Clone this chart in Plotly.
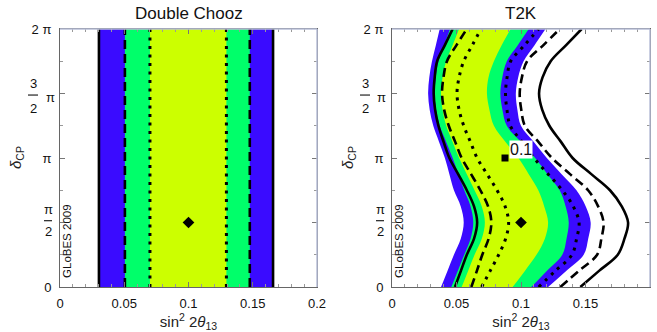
import plotly.graph_objects as go

# ---------------- data ----------------
# delta_CP in units of pi
delta_pts = [0, 0.125, 0.25, 0.375, 0.5, 0.625, 0.75, 0.875, 1.0,
             1.125, 1.25, 1.375, 1.5, 1.625, 1.75, 1.875, 2.0]
delta_edge = [0, 2]

# Double Chooz (vertical bands, independent of delta)
dc_blue = [0.0303, 0.1658]
dc_green = [0.0505, 0.1477]
dc_yellow = [0.0700, 0.1295]
dc_solid = [0.0303, 0.1658]
dc_dashed = [0.0505, 0.1477]
dc_dotted = [0.0700, 0.1295]

# T2K region boundaries (sin^2 2theta13 at each delta_pts)
t2k_blue_left = [0.038, 0.043, 0.048, 0.0533, 0.0556, 0.0533, 0.048, 0.0445, 0.041,
                 0.0365, 0.032, 0.0292, 0.028, 0.0289, 0.031, 0.034, 0.037]
t2k_green_left = [0.046, 0.051, 0.056, 0.0609, 0.063, 0.0609, 0.056, 0.0515, 0.047,
                  0.042, 0.037, 0.0342, 0.033, 0.0339, 0.036, 0.0405, 0.045]
t2k_yellow_left = [0.054, 0.059, 0.064, 0.0696, 0.072, 0.0696, 0.064, 0.058, 0.052,
                   0.047, 0.042, 0.0392, 0.038, 0.0392, 0.042, 0.047, 0.052]
t2k_yellow_right = [0.0935, 0.103, 0.112, 0.1185, 0.121, 0.118, 0.1134, 0.106, 0.098,
                    0.088, 0.079, 0.0755, 0.0736, 0.0748, 0.079, 0.085, 0.092]
t2k_green_right = [0.108, 0.120, 0.132, 0.1353, 0.137, 0.1346, 0.130, 0.1205, 0.111,
                   0.100, 0.089, 0.0856, 0.084, 0.0855, 0.089, 0.0975, 0.106]
t2k_blue_right = [0.121, 0.135, 0.1486, 0.1521, 0.154, 0.1502, 0.143, 0.1315, 0.120,
                  0.110, 0.100, 0.0972, 0.096, 0.0978, 0.102, 0.1105, 0.119]

t2k_solid_left = [0.0488, 0.0534, 0.058, 0.0636, 0.066, 0.0636, 0.058, 0.0513, 0.0445,
                  0.040, 0.036, 0.0334, 0.0323, 0.0331, 0.035, 0.041, 0.047]
t2k_dashed_left = [0.0615, 0.0658, 0.070, 0.0749, 0.077, 0.0745, 0.0685, 0.0613, 0.054,
                   0.049, 0.044, 0.0404, 0.0388, 0.0399, 0.0426, 0.050, 0.058]
t2k_dotted_left = [0.0695, 0.0761, 0.0827, 0.0881, 0.0904, 0.0877, 0.0814, 0.0737, 0.066,
                   0.0608, 0.0556, 0.052, 0.0504, 0.052, 0.0556, 0.0623, 0.069]
t2k_dotted_right = [0.1137, 0.1266, 0.1395, 0.1431, 0.145, 0.1405, 0.132, 0.121, 0.110,
                    0.1008, 0.0917, 0.0891, 0.088, 0.0892, 0.092, 0.1028, 0.1137]
t2k_dashed_right = [0.1305, 0.1448, 0.159, 0.1623, 0.164, 0.1598, 0.152, 0.138, 0.124,
                    0.1135, 0.103, 0.1002, 0.099, 0.1007, 0.1047, 0.1174, 0.130]
t2k_solid_right = [0.146, 0.1605, 0.175, 0.1802, 0.183, 0.1781, 0.169, 0.1545, 0.140,
                   0.131, 0.122, 0.1164, 0.114, 0.1167, 0.123, 0.135, 0.147]

true_point = (0.1, 0.5)
t2k_square = (0.0876, 1.0)
t2k_label = (0.1, 1.066, "0.1")

x_ticks = [0, 0.05, 0.1, 0.15, 0.2]
x_ticktext = ["0", "0.05", "0.1", "0.15", "0.2"]
y_ticks = [0, 0.5, 1, 1.5, 2]
y_ticktext = ["0", " ", "π", " ", "2 π"]

titles = ["Double Chooz", "T2K"]

# ---------------- style ----------------
BLUE = "#3a0bff"
GREEN = "#00ff6a"
YELLOW = "#ccff00"
FONT = "Liberation Sans, Arial, sans-serif"
W, H = 657, 332
ML, MR, MT, MB = 60, 7, 29, 45
plot_w = W - ML - MR
dom1 = [0, 257 / plot_w]
dom2 = [332 / plot_w, 1]

SOLID = dict(color="black", width=2.6)
DASHED = dict(color="black", width=2.6, dash="9px,5px")
DOTTED = dict(color="black", width=3, dash="3px,5.5px")

fig = go.Figure()


def band(xa, ya, left, right, ys, color, shape):
    fig.add_trace(go.Scatter(x=left, y=ys, mode="lines", line=dict(width=0, color=color, shape=shape),
                             xaxis=xa, yaxis=ya, hoverinfo="skip", showlegend=False))
    fig.add_trace(go.Scatter(x=right, y=ys, mode="lines", line=dict(width=0, color=color, shape=shape),
                             fill="tonextx", fillcolor=color,
                             xaxis=xa, yaxis=ya, hoverinfo="skip", showlegend=False))


def curve(xa, ya, xs, ys, style, shape):
    fig.add_trace(go.Scatter(x=xs, y=ys, mode="lines", line=dict(shape=shape, **style),
                             xaxis=xa, yaxis=ya, hoverinfo="skip", showlegend=False))


# Double Chooz panel
band("x", "y", [dc_blue[0]] * 2, [dc_blue[1]] * 2, delta_edge, BLUE, "linear")
band("x", "y", [dc_green[0]] * 2, [dc_green[1]] * 2, delta_edge, GREEN, "linear")
band("x", "y", [dc_yellow[0]] * 2, [dc_yellow[1]] * 2, delta_edge, YELLOW, "linear")
for v in dc_solid:
    curve("x", "y", [v] * 2, delta_edge, SOLID, "linear")
for v in dc_dashed:
    curve("x", "y", [v] * 2, delta_edge, DASHED, "linear")
for v in dc_dotted:
    curve("x", "y", [v] * 2, delta_edge, DOTTED, "linear")
fig.add_trace(go.Scatter(x=[true_point[0]], y=[true_point[1]], mode="markers",
                         marker=dict(symbol="diamond", size=9, color="black"),
                         xaxis="x", yaxis="y", showlegend=False, hoverinfo="skip"))

# T2K panel
band("x2", "y2", t2k_blue_left, t2k_blue_right, delta_pts, BLUE, "spline")
band("x2", "y2", t2k_green_left, t2k_green_right, delta_pts, GREEN, "spline")
band("x2", "y2", t2k_yellow_left, t2k_yellow_right, delta_pts, YELLOW, "spline")
curve("x2", "y2", t2k_solid_left, delta_pts, SOLID, "spline")
curve("x2", "y2", t2k_solid_right, delta_pts, SOLID, "spline")
curve("x2", "y2", t2k_dashed_left, delta_pts, DASHED, "spline")
curve("x2", "y2", t2k_dashed_right, delta_pts, DASHED, "spline")
curve("x2", "y2", t2k_dotted_left, delta_pts, DOTTED, "spline")
curve("x2", "y2", t2k_dotted_right, delta_pts, DOTTED, "spline")
fig.add_trace(go.Scatter(x=[true_point[0]], y=[true_point[1]], mode="markers",
                         marker=dict(symbol="diamond", size=9, color="black"),
                         xaxis="x2", yaxis="y2", showlegend=False, hoverinfo="skip"))
fig.add_trace(go.Scatter(x=[t2k_square[0]], y=[t2k_square[1]], mode="markers",
                         marker=dict(symbol="square", size=7, color="black"),
                         xaxis="x2", yaxis="y2", showlegend=False, hoverinfo="skip"))

xcommon = dict(range=[0, 0.2], tickvals=x_ticks, ticktext=x_ticktext, ticks="inside", ticklen=5,
               tickcolor="#777", showline=True, linecolor="#666", linewidth=1, mirror="ticks",
               showgrid=False, zeroline=False, tickfont=dict(size=13, color="#111", family=FONT),
               minor=dict(dtick=0.01, ticks="inside", ticklen=3, tickcolor="#999"),
               title=dict(text="sin<sup>2</sup> 2<i>θ</i><sub>13</sub>", font=dict(size=15, color="#222", family=FONT),
                          standoff=4),
               ticklabelstandoff=4, automargin=False)
ycommon = dict(range=[0, 2], tickvals=y_ticks, ticktext=y_ticktext, ticks="inside", ticklen=5,
               tickcolor="#777", showline=True, linecolor="#666", linewidth=1, mirror="ticks",
               showgrid=False, zeroline=False, tickfont=dict(size=13, color="#111", family=FONT),
               minor=dict(dtick=0.25, ticks="inside", ticklen=3, tickcolor="#999"),
               ticklabelstandoff=5, automargin=False)

fig.update_layout(
    width=W, height=H, margin=dict(l=ML, r=MR, t=MT, b=MB),
    paper_bgcolor="white", plot_bgcolor="white", showlegend=False,
    xaxis=dict(domain=dom1, anchor="y", **xcommon),
    yaxis=dict(domain=[0, 1], anchor="x", **ycommon),
    xaxis2=dict(domain=dom2, anchor="y2", **xcommon),
    yaxis2=dict(domain=[0, 1], anchor="x2", **ycommon),
    font=dict(family=FONT),
)

ann = []
shapes = []


def px(p):
    return (p - ML) / plot_w


def txt(text, x, y, yref, size=13, angle=0, color="#111"):
    return dict(text=text, x=x, y=y, xref="paper", yref=yref, showarrow=False,
                xanchor="center", yanchor="middle", textangle=angle,
                font=dict(size=size, color=color, family=FONT))


for i, (dom, title) in enumerate([(dom1, titles[0]), (dom2, titles[1])]):
    yref = "y" if i == 0 else "y2"
    axpx = ML + dom[0] * plot_w

    # title
    ann.append(dict(text=title, x=(dom[0] + dom[1]) / 2, y=1, xref="paper", yref="paper",
                    xanchor="center", yanchor="bottom", yshift=4, showarrow=False,
                    font=dict(size=17, color="#111", family=FONT)))
    # fractions on y axis
    ann.append(txt("3", px(axpx - 27), 1.581, yref))
    ann.append(txt("2", px(axpx - 27), 1.380, yref))
    ann.append(txt("π", px(axpx - 10), 1.47, yref))
    shapes.append(dict(type="line", x0=px(axpx - 32), x1=px(axpx - 22), y0=1.488, y1=1.488,
                       xref="paper", yref=yref, line=dict(color="#222", width=1.2)))
    ann.append(txt("π", px(axpx - 12), 0.597, yref))
    ann.append(txt("2", px(axpx - 12), 0.429, yref))
    shapes.append(dict(type="line", x0=px(axpx - 16), x1=px(axpx - 8), y0=0.514, y1=0.514,
                       xref="paper", yref=yref, line=dict(color="#222", width=1.2)))
    # y-axis title
    ann.append(txt("<i>δ</i><sub>CP</sub>", px(axpx - 44), 1.0, yref, size=15, angle=-90, color="#222"))
    # GLoBES stamp
    ann.append(txt("GLoBES 2009", px(axpx + 7.5), 0.353, yref, size=11.5, angle=-90))
    # light top / right frame lines
    shapes.append(dict(type="line", x0=dom[0], x1=dom[1], y0=1, y1=1, xref="paper", yref="paper",
                       line=dict(color="#b8bfd8", width=1.5)))
    shapes.append(dict(type="line", x0=dom[1], x1=dom[1], y0=0, y1=1, xref="paper", yref="paper",
                       line=dict(color="#b8bfd8", width=1.5)))

ann.append(dict(text=t2k_label[2], x=t2k_label[0], y=t2k_label[1], xref="x2", yref="y2",
                xanchor="center", yanchor="middle",
                showarrow=False, bgcolor="white", borderpad=0,
                font=dict(size=16, color="#111", family=FONT)))

fig.update_layout(annotations=ann, shapes=shapes)
fig.write_html("out.html", config={"displayModeBar": False},
               post_script="document.body.style.margin='0';document.body.style.overflow='hidden';")
